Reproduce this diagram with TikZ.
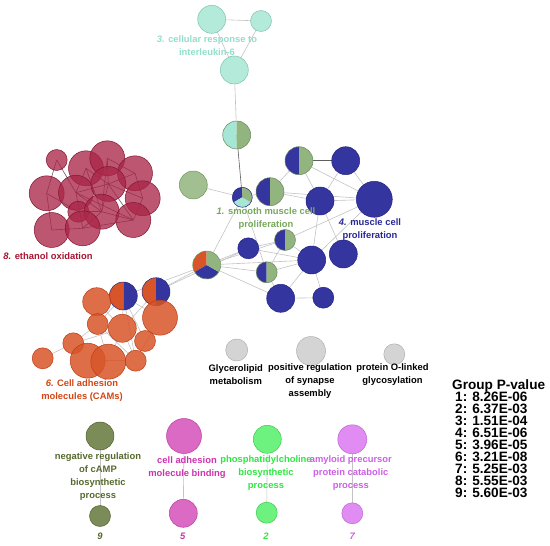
\documentclass[tikz,border=0pt]{standalone}
\usepackage{fontspec}
\setmainfont{Liberation Sans}[BoldFont={Liberation Sans Bold}, ItalicFont={Liberation Sans Italic}, BoldItalicFont={Liberation Sans Bold Italic}]
\usetikzlibrary{backgrounds}
\definecolor{cCyan}{RGB}{166,230,212}   \definecolor{cCyanD}{RGB}{125,195,175} \definecolor{tCyan}{RGB}{145,222,202}
\definecolor{cGreen}{RGB}{146,180,126}  \definecolor{cGreenD}{RGB}{110,150,95} \definecolor{tGreen}{RGB}{118,168,92}
\definecolor{cBlue}{RGB}{53,53,160}     \definecolor{cBlueD}{RGB}{35,35,130}   \definecolor{tBlue}{RGB}{40,40,150}
\definecolor{cRed}{RGB}{170,38,72}      \definecolor{cRedD}{RGB}{130,20,50}    \definecolor{tRed}{RGB}{165,20,50}
\definecolor{cOrange}{RGB}{215,85,40}   \definecolor{cOrangeD}{RGB}{190,60,20} \definecolor{tOrange}{RGB}{210,70,20}
\definecolor{cGrey}{RGB}{205,205,205}   \definecolor{cGreyD}{RGB}{175,175,175}
\definecolor{cOlive}{RGB}{100,120,60}   \definecolor{cOliveD}{RGB}{80,95,45}   \definecolor{tOlive}{RGB}{85,105,45}
\definecolor{cMag}{RGB}{212,80,185}     \definecolor{cMagD}{RGB}{185,60,160}   \definecolor{tMag}{RGB}{205,50,175}
\definecolor{cLime}{RGB}{85,240,105}    \definecolor{cLimeD}{RGB}{60,200,80}   \definecolor{tLime}{RGB}{45,230,65}
\definecolor{cViolet}{RGB}{220,120,240} \definecolor{cVioletD}{RGB}{190,100,215} \definecolor{tViolet}{RGB}{205,95,230}
\definecolor{cLink}{RGB}{195,195,195}   \definecolor{cDark}{RGB}{95,95,95}
% pie pieces of a node
\newcommand{\slicefill}[5]{\fill[#5] (#1.center) -- ++(#2:#4) arc[start angle=#2, end angle=#3, radius=#4] -- cycle;}
\newcommand{\rim}[3]{\draw[#3, line width=0.5pt] (#1.center) circle[radius=#2];}
\newcommand{\halfpie}[4]{\slicefill{#1}{90}{270}{#2}{#3}\slicefill{#1}{-90}{90}{#2}{#4}\rim{#1}{#2}{#4!75!black}}
\tikzset{
  bubble/.style={circle, inner sep=0pt, outer sep=0pt, line width=0.5pt, fill opacity=0.85},
  pie/.style={circle, inner sep=0pt, outer sep=0pt},
  rS/.style={minimum size=21pt}, rM/.style={minimum size=28pt}, rL/.style={minimum size=35pt}, rX/.style={minimum size=36pt},
  g1/.style={bubble, fill=cGreen, draw=cGreenD},
  g3/.style={bubble, fill=cCyan, draw=cCyanD},
  g4/.style={bubble, fill=cBlue, draw=cBlueD, fill opacity=1},
  g6/.style={bubble, fill=cOrange, draw=cOrangeD},
  g8/.style={bubble, fill=cRed, draw=cRedD, fill opacity=0.78},
  g0/.style={bubble, fill=cGrey, draw=cGreyD},
  g9/.style={bubble, fill=cOlive, draw=cOliveD},
  g5/.style={bubble, fill=cMag, draw=cMagD},
  g2/.style={bubble, fill=cLime, draw=cLimeD},
  g7/.style={bubble, fill=cViolet, draw=cVioletD},
  link/.style={draw=cLink, line width=0.6pt},
  dlink/.style={draw=cDark, line width=0.6pt},
  lbl/.style={align=center, inner sep=0pt, font=\bfseries\fontsize{9.4}{13}\selectfont},
  leg/.style={inner sep=0pt, anchor=base west, font=\bfseries\fontsize{13.6}{14}\selectfont}
}
\begin{document}
\begin{tikzpicture}[x=1pt, y=-1pt, line join=round, line cap=round]
	\useasboundingbox (0,0) rectangle (550,546);
	% group 3
	\node[g3, rM] (c3a) at (211.7,19.3) {};
	\node[g3, rS] (c3b) at (261,21) {};
	\node[g3, rM] (c3c) at (234.3,70) {};
	% mixed nodes
	\node[pie, rM] (p13) at (236.7,135) {};
	\halfpie{p13}{14pt}{cCyan}{cGreen}
	\node[g1, rM] (g1a) at (193.3,185) {};
	\node[pie, minimum size=20pt] (p134) at (242.3,197.3) {};
	\slicefill{p134}{90}{210}{10pt}{cBlue}
	\slicefill{p134}{210}{330}{10pt}{cCyan}
	\slicefill{p134}{-30}{90}{10pt}{cGreen}
	\rim{p134}{10pt}{cBlueD}
	\node[pie, rM] (p14a) at (299,160.7) {};
	\halfpie{p14a}{14pt}{cBlue}{cGreen}
	\node[pie, rM] (p14b) at (270,191.7) {};
	\halfpie{p14b}{14pt}{cBlue}{cGreen}
	\node[pie, rS] (p14c) at (285,240) {};
	\halfpie{p14c}{10.5pt}{cBlue}{cGreen}
	\node[pie, rS] (p14d) at (266.7,272.3) {};
	\halfpie{p14d}{10.5pt}{cBlue}{cGreen}
	\node[pie, rM] (p146) at (206.7,265) {};
	\slicefill{p146}{90}{210}{14pt}{cOrange}
	\slicefill{p146}{210}{330}{14pt}{cBlue}
	\slicefill{p146}{-30}{90}{14pt}{cGreen}
	\rim{p146}{14pt}{cGreenD}
	% group 4
	\node[g4, rM] (b4a) at (345.7,160.7) {};
	\node[g4, rM] (b4b) at (320,201) {};
	\node[g4, rX] (b4c) at (374.3,199.3) {};
	\node[g4, rS] (b4d) at (248.3,248.3) {};
	\node[g4, rM] (b4e) at (311.7,260) {};
	\node[g4, rM] (b4f) at (343.3,254) {};
	\node[g4, rM] (b4g) at (280.7,298.3) {};
	\node[g4, rS] (b4h) at (323.3,297.7) {};
	% group 8
	\node[g8, rS] (r1) at (56.7,160) {};
	\node[g8, rL] (r2) at (86,168.3) {};
	\node[g8, rL] (r3) at (107.3,158.3) {};
	\node[g8, rL] (r4) at (135,173.3) {};
	\node[g8, rL] (r5) at (46.7,193.3) {};
	\node[g8, rL] (r6) at (76,192.7) {};
	\node[g8, rL] (r7) at (108.3,184) {};
	\node[g8, rL] (r8) at (142.7,198.3) {};
	\node[g8, rS] (r9) at (78.3,211.7) {};
	\node[g8, rL] (r10) at (101.7,211.7) {};
	\node[g8, rL] (r11) at (51.7,230) {};
	\node[g8, rL] (r12) at (82.7,228.3) {};
	\node[g8, rL] (r13) at (133.3,220) {};
	% group 6
	\node[pie, rM] (o1) at (123.3,296) {};
	\halfpie{o1}{14pt}{cOrange}{cBlue}
	\node[pie, rM] (o2) at (156,291.7) {};
	\halfpie{o2}{14pt}{cOrange}{cBlue}
	\node[g6, rM] (o3) at (96.7,301.7) {};
	\node[g6, rL] (o4) at (160,317.7) {};
	\node[g6, rS] (o5) at (97.7,324) {};
	\node[g6, rM] (o6) at (122.3,328.3) {};
	\node[g6, rS] (o7) at (73.3,343.3) {};
	\node[g6, rS] (o8) at (145,341) {};
	\node[g6, rS] (o9) at (42.7,358.3) {};
	\node[g6, rL] (o10) at (87.7,360.7) {};
	\node[g6, rL] (o11) at (108.3,361.7) {};
	\node[g6, rS] (o12) at (135.7,360.7) {};
	% single terms
	\node[g0, minimum size=22pt] (s1) at (236.7,350) {};
	\node[g0, minimum size=29pt] (s2) at (311,351) {};
	\node[g0, rS] (s3) at (394.3,354.3) {};
	% small groups
	\node[g9, rM] (n9a) at (100,436) {};
	\node[g9, rS] (n9b) at (100,516) {};
	\node[g5, rL] (n5a) at (184,436) {};
	\node[g5, rM] (n5b) at (183.3,513.3) {};
	\node[g2, rM] (n2a) at (267.3,439.3) {};
	\node[g2, rS] (n2b) at (266.7,512.7) {};
	\node[g7, minimum size=29pt] (n7a) at (352.3,439.3) {};
	\node[g7, rS] (n7b) at (352.3,513.3) {};
	\begin{pgfonlayer}{background}
	\foreach \a/\b in {c3a/c3b,c3a/c3c,c3b/c3c,c3c/p13,g1a/p134,p134/p14b,p134/p14d,p134/p146,
		p14a/p14b,p14a/b4b,p14a/b4c,b4a/b4b,b4a/b4c,p14b/b4b,p14b/b4c,b4b/b4c,b4b/b4e,b4b/b4f,
		b4c/p14c,b4c/b4e,p14c/b4d,p14c/b4e,p14c/p14d,p14c/p146,b4d/p146,b4d/b4e,p146/p14d,p146/b4g,
		p146/b4e,b4e/b4h,b4e/b4g,b4g/b4h,p14d/b4g,p14d/b4e,o2/p146,o1/p146,o2/b4d,
		o9/o7,o7/o5,o7/o10,o7/o6,o3/o6,o5/o6,o1/o6,o1/o4,o2/o4,o6/o12,o6/o11,o5/o12,o1/o12,
		o8/o4,o6/o8,o2/o6,o1/o5,o4/o12,o10/o12,o1/o8,o3/o5,o5/o11,
		n9a/n9b,n5a/n5b,n2a/n2b,n7a/n7b}
		\draw[link] (\a) -- (\b);
	\foreach \a/\b in {p13/p134,p14a/b4a,
		r1/r5,r1/r6,r5/r11,r5/r9,r6/r7,r6/r10,r7/r8,r7/r13,r3/r7,r2/r7,r4/r8,r8/r13,r10/r13,
		r9/r10,r6/r12,r11/r12,r2/r6,r3/r4,r10/r12,r7/r10,r12/r13,r6/r13,r2/r10,r4/r7,r3/r10}
		\draw[dlink] (\a.center) -- (\b.center);
	\end{pgfonlayer}
	% labels
	\node[lbl, text=tCyan] (lab3) at (207,46) {\textit{3.} cellular response to\\interleukin-6};
	\node[lbl, text=tGreen] (lab1) at (266,219) {\textit{1.} smooth muscle cell\\proliferation};
	\node[lbl, text=tBlue] (lab4) at (370,230) {\textit{4.} muscle cell\\proliferation};
	\node[lbl, text=tRed] (lab8) at (48,255.7) {\textit{8.} ethanol oxidation};
	\node[lbl, text=tOrange] (lab6) at (82,391) {\textit{6.} Cell adhesion\\molecules (CAMs)};
	\node[lbl] (lab1s) at (235.8,374.3) {Glycerolipid\\metabolism};
	\node[lbl] (lab2s) at (310,381.2) {positive regulation\\of synapse\\assembly};
	\node[lbl] (lab3s) at (392.5,374.3) {protein O-linked\\glycosylation};
	\node[lbl, text=tOlive] (lab9) at (98,476.2) {negative regulation\\of cAMP\\biosynthetic\\process};
	\node[lbl, text=tMag] (lab5) at (187,468) {cell adhesion\\molecule binding};
	\node[lbl, text=tLime] (lab2) at (266,473.3) {phosphatidylcholine\\biosynthetic\\process};
	\node[lbl, text=tViolet] (lab7) at (350.8,473.3) {amyloid precursor\\protein catabolic\\process};
	\path
	(100,536) node[lbl, text=tOlive] (num9) {\textit{9}}
	(182.7,536) node[lbl, text=tMag] (num5) {\textit{5}}
	(266,536) node[lbl, text=tLime] (num2) {\textit{2}}
	(352.3,536) node[lbl, text=tViolet] (num7) {\textit{7}};
	% legend
	\node[leg] (legh) at (452,389) {Group P-value};
	\foreach \g/\p [count=\i] in {1/8.26E-06,2/6.37E-03,3/1.51E-04,4/6.51E-06,5/3.96E-05,6/3.21E-08,7/5.25E-03,8/5.55E-03,9/5.60E-03}
		\node[leg] (leg\g) at (455,389+12.1*\i) {\g: \p};
\end{tikzpicture}
\end{document}
